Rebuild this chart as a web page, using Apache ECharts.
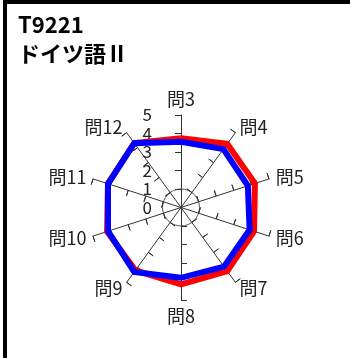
<!DOCTYPE html>
<html>
<head>
<meta charset="utf-8">
<script src="https://cdn.jsdelivr.net/npm/echarts@6/dist/echarts.min.js"></script>
<style>
  html, body { margin: 0; padding: 0; background: #fff; }
  #chart { position: absolute; left: 0; top: 0; width: 350px; height: 358px; }
  #frame { position: absolute; left: 3px; top: 0; right: 0; bottom: 0;
           border-left: 4px solid #000; border-top: 4px solid #000; pointer-events: none; }
</style>
</head>
<body>
<div id="chart"></div>
<div id="frame"></div>
<script>
// 図のデータ
var titleCode = "T9221";
var titleName = "ドイツ語Ⅱ";
var questions = ["問3", "問4", "問5", "問6", "問7", "問8", "問9", "問10", "問11", "問12"];
var redValues = [3.75, 4.25, 4.2, 4.15, 4.25, 4.15, 4.2, 4.2, 4.15, 4.3];
var blueValues = [3.55, 3.9, 3.8, 3.9, 3.95, 3.8, 4.3, 4.15, 4.15, 4.3];
var tickValues = [1, 2, 3, 4, 5];
var scaleMax = 5;

(function () {
  var font = '"Noto Sans CJK JP", "Noto Sans", sans-serif';
  var myChart = echarts.init(document.getElementById("chart"));

  // レーダーは反時計回りに並ぶので、問3を先頭のまま残りを逆順にする（時計回りに見せる）
  function clockwise(arr) {
    return [arr[0]].concat(arr.slice(1).reverse());
  }
  var qs = clockwise(questions);

  // 目盛り線は軸の両側に出すので、同じ位置にレーダーを2つ重ねる
  var indicatorMain = qs.map(function (q, i) {
    var item = { name: q, min: 0, max: scaleMax };
    if (i === 0) {
      item.axisLabel = { show: true }; // 目盛りの数字は一番上の軸だけ
    }
    return item;
  });
  var indicatorSub = qs.map(function (q) {
    return { name: q, min: 0, max: scaleMax };
  });

  var clear = "rgba(0,0,0,0)";

  var option = {
    animation: false,
    title: {
      text: titleCode + "\n" + titleName,
      left: 13,
      top: 5,
      textStyle: {
        color: "#000",
        fontSize: 22,
        fontWeight: "bold",
        fontFamily: font,
        lineHeight: 29
      }
    },
    radar: [
      {
        center: [181, 207.5],
        radius: 92.5,
        startAngle: 90,
        shape: "circle",
        splitNumber: 5,
        nameGap: 7,
        axisName: {
          color: "#222",
          fontSize: 18,
          fontFamily: font
        },
        axisLine: { lineStyle: { color: "#333", width: 1 } },
        axisTick: { show: true, length: 6, customValues: tickValues, lineStyle: { color: "#333", width: 1 } },
        axisLabel: {
          show: false,
          color: "#222",
          fontSize: 17,
          fontFamily: font,
          margin: 29
        },
        splitLine: { lineStyle: { color: ["#555", clear, clear, clear, clear, clear], width: 1 } },
        splitArea: { show: false },
        indicator: indicatorMain
      },
      {
        center: [181, 207.5],
        radius: 92.5,
        startAngle: 90,
        splitNumber: 5,
        axisName: { show: false },
        axisLine: { show: false },
        axisTick: { show: true, inside: true, length: 6, customValues: tickValues, lineStyle: { color: "#333", width: 1 } },
        axisLabel: { show: false },
        splitLine: { show: false },
        splitArea: { show: false },
        indicator: indicatorSub
      }
    ],
    series: [
      {
        type: "radar",
        radarIndex: 0,
        symbol: "none",
        lineStyle: { color: "#ff0000", width: 6, join: "miter" },
        data: [{ value: clockwise(redValues) }]
      },
      {
        type: "radar",
        radarIndex: 0,
        symbol: "none",
        lineStyle: { color: "#0000ff", width: 6, join: "miter" },
        data: [{ value: clockwise(blueValues) }]
      }
    ]
  };

  myChart.setOption(option);
  window.addEventListener("resize", function () {
    myChart.resize();
  });
})();
</script>
</body>
</html>
